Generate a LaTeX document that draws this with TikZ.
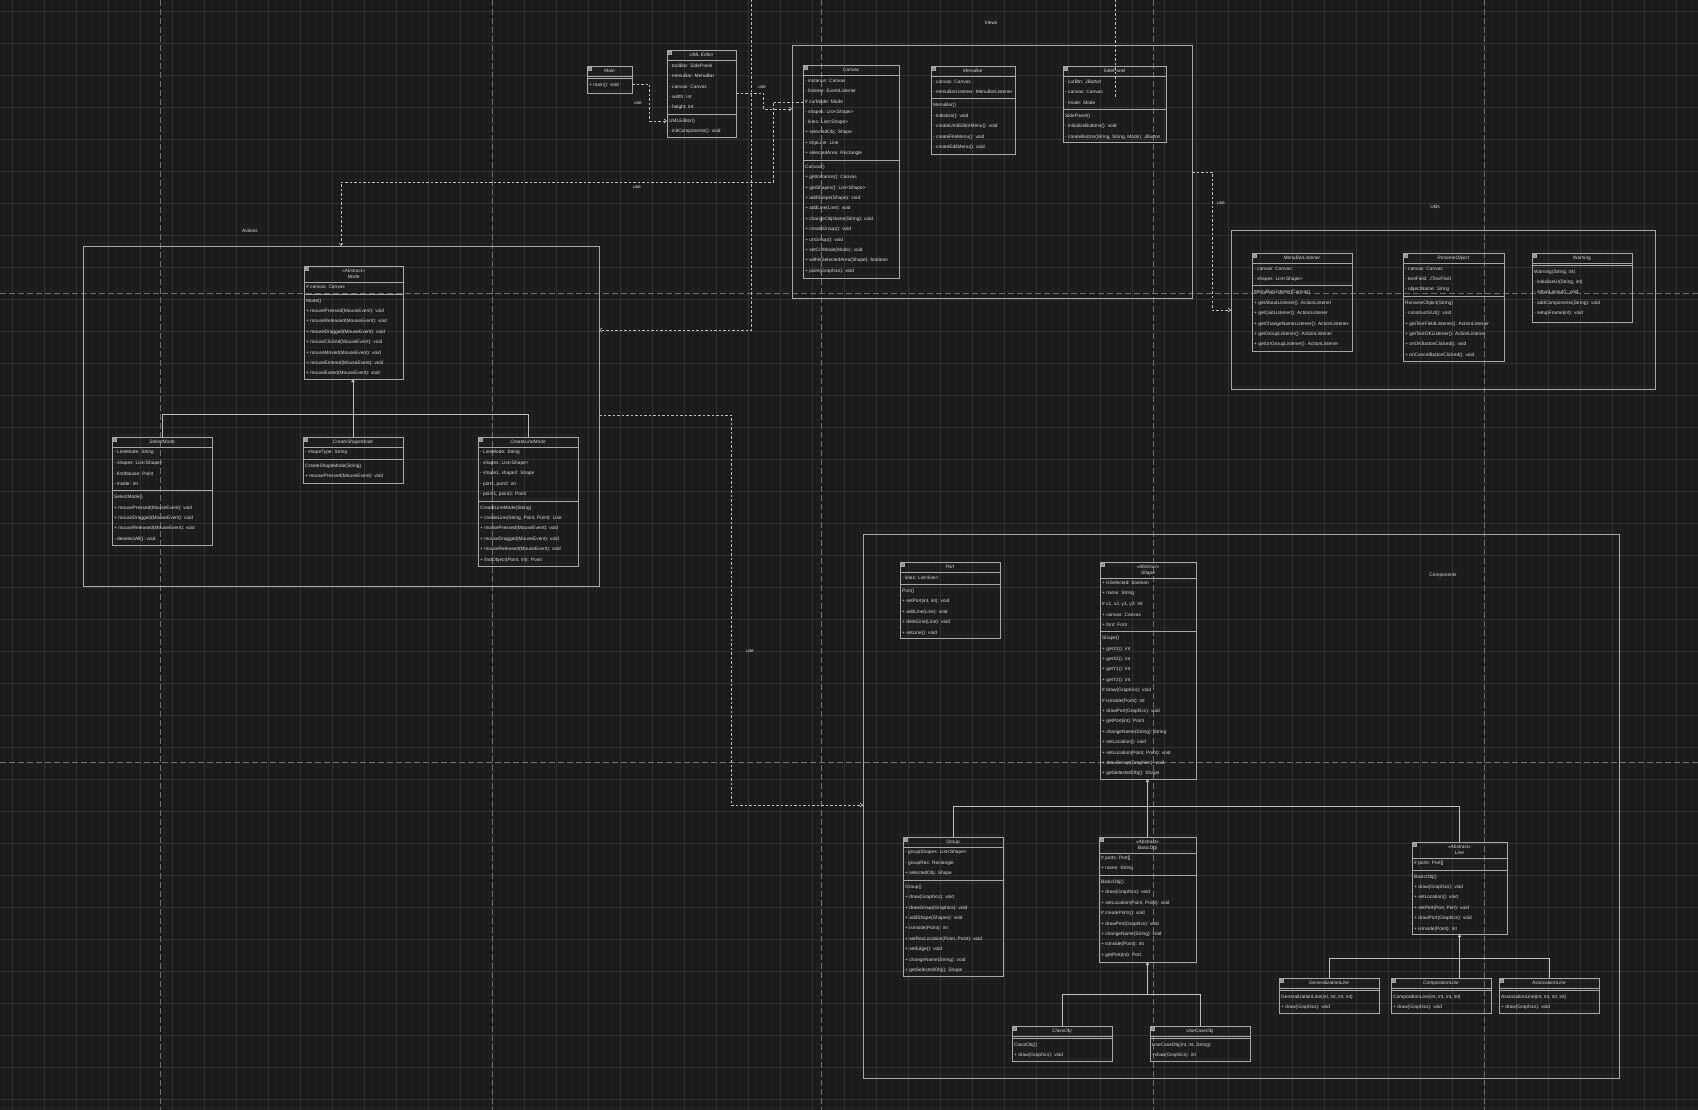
\documentclass[tikz,border=0pt]{standalone}
\usepackage{fontspec}
\setmainfont{Liberation Sans}
\usetikzlibrary{arrows.meta,calc}
\definecolor{bg}{HTML}{1C1C1C}
\definecolor{gridminor}{HTML}{222222}
\definecolor{gridmajor}{HTML}{313131}
\definecolor{boxline}{HTML}{A6A6A6}
\definecolor{txt}{HTML}{DADADA}
\definecolor{pagebrk}{HTML}{6E6E6E}
\definecolor{edgec}{HTML}{BDBDBD}
\definecolor{iconc}{HTML}{8C8C8C}
\tikzset{
  box/.style={draw=boxline, line width=0.75pt, inner sep=0pt, outer sep=0pt, anchor=north west},
  container/.style={draw=boxline, line width=0.8pt, inner sep=0pt, outer sep=0pt, anchor=north west},
  sepl/.style={draw=boxline, line width=0.75pt},
  rowtxt/.style={anchor=west, inner sep=0pt, text=txt, font=\fontsize{4.8}{5.8}\selectfont},
  ttl/.style={inner sep=0pt, text=txt, align=center, font=\fontsize{4.8}{5.8}\selectfont},
  lbl/.style={inner sep=0pt, text=txt, font=\fontsize{4.8}{5.8}\selectfont},
  pagebreak/.style={draw=pagebrk, line width=0.9pt, dash pattern=on 6pt off 3pt},
  usedge/.style={draw=edgec, line width=0.6pt, dash pattern=on 2.5pt off 2pt, -{Straight Barb[length=2.5pt,width=4pt]}},
  usplain/.style={draw=edgec, line width=0.6pt, dash pattern=on 2.5pt off 2pt},
  solidedge/.style={draw=edgec, line width=0.7pt},
  genedge/.style={draw=edgec, line width=0.7pt, -{Triangle[length=3.2pt,width=3.6pt,fill=edgec]}},
}
% #1 header height, #2 name, #3 x, #4 y, #5 width, #6 height, #7 title, #8 attributes, #9 methods
\newcommand{\umlclass}[9][10.4]{%
  \node[box, minimum width=#5pt, minimum height=#6pt] (#2) at (#3,#4) {};
  \draw[sepl] ({#3},{#4+#1}) -- ++(#5,0);
  \filldraw[fill=iconc, draw=boxline, line width=0.3pt] ({#3+1.6},{#4+1.6}) rectangle ++(3,3);
  \node[ttl] (#2-title) at ({#3+#5/2},{#4+#1/2}) {#7};
  \gdef\na{0}%
  \def\tmpattrs{#8}%
  \ifx\tmpattrs\empty\else
    \foreach \itm [count=\cnt] in {#8} {\node[rowtxt] (#2-a\cnt) at ({#3+2},{#4+#1+(\cnt-0.5)*10.4}) {\itm}; \xdef\na{\cnt}}%
  \fi
  \pgfmathsetmacro\sepy{#4+#1+\na*10.4+1.6}%
  \draw[sepl] ({#3},{\sepy}) -- ++(#5,0);
  \foreach \itm [count=\cnt] in {#9} {\node[rowtxt] (#2-m\cnt) at ({#3+2},{\sepy+1.6+(\cnt-0.5)*10.4}) {\itm};}%
}
\begin{document}
\begin{tikzpicture}[x=1pt,y=-1pt]
\useasboundingbox (0,0) rectangle (1698,1110);
\fill[bg] (0,0) rectangle (1698,1110);
\begin{scope}
  \clip (0,0) rectangle (1698,1110);
  \foreach \x in {4,12,...,1700} \draw[gridminor, line width=0.5pt] (\x,0) -- (\x,1110);
  \foreach \y in {3,11,...,1112} \draw[gridminor, line width=0.5pt] (0,\y) -- (1698,\y);
  \foreach \x in {12,44,...,1700} \draw[gridmajor, line width=0.6pt] (\x,0) -- (\x,1110);
  \foreach \y in {11,43,...,1112} \draw[gridmajor, line width=0.6pt] (0,\y) -- (1698,\y);
  \foreach \x in {160,492,821,1153,1484} \draw[pagebreak] (\x,0) -- (\x,1110);
  \foreach \y in {293,762} \draw[pagebreak] (0,\y) -- (1698,\y);
\end{scope}

% containers
\node[container, minimum width=400pt, minimum height=253pt] (Views) at (792,45) {};
\node[lbl] (ViewsLbl) at (991,23) {Views};
\node[container, minimum width=516pt, minimum height=340pt] (Actions) at (83,246) {};
\node[lbl] (ActionsLbl) at (250,231) {Actions};
\node[container, minimum width=424pt, minimum height=159pt] (Utils) at (1231,230) {};
\node[lbl] (UtilsLbl) at (1435,207) {Utils};
\node[container, minimum width=756pt, minimum height=544pt] (Components) at (863,534) {};
\node[lbl] (ComponentsLbl) at (1443,575) {Components};

% classes
\umlclass{Main}{587}{66}{45}{27}{Main}{}{{+ main(): void}}
\umlclass{UMLEditor}{667}{50}{69}{87}{\textit{UML Editor}}{{- toolBar: SidePanel},{- menuBar: MenuBar},{- canvas: Canvas},{- width: int},{- height: int}}{{UMLEditor()},{- initComponents(): void}}

\umlclass{Canvas}{803}{65}{96}{213}{Canvas}{{- instance: Canvas},{- listener: EventListener},{\# curMode: Mode},{- shapes: List<Shape>},{- lines: List<Shape>},{+ selectedObj: Shape},{+ tmpLine: Line},{+ selectedArea: Rectangle}}{{Canvas()},{+ getInstance(): Canvas},{+ getShapes(): List<Shape>},{+ addShape(Shape): void},{+ addLine(Line): void},{+ changeObjName(String): void},{+ createGroup(): void},{+ unGroup(): void},{+ setCurMode(Mode): void},{+ withinSelectedArea(Shape): boolean},{+ paint(Graphics): void}}
\umlclass{MenuBar}{931}{66}{84}{88}{\textit{MenuBar}}{{- canvas: Canvas},{- menuBarListener: MenuBarListener}}{{MenuBar()},{- initialize(): void},{- createUmlEditorMenu(): void},{- createFileMenu(): void},{- createEditMenu(): void}}
\umlclass{SidePanel}{1063}{66}{103}{76}{SidePanel}{{- curBtn: \textit{JButton}},{- canvas: Canvas},{- mode: Mode}}{{SidePanel()},{- initializeButtons(): void},{- createButton(String, String, Mode): \textit{JButton}}}

\umlclass[16]{Mode}{304}{266}{99}{113}{\textit{«Abstract»}\\\textit{Mode}}{{\# canvas: Canvas}}{{Mode()},{+ mousePressed(MouseEvent): void},{+ mouseReleased(MouseEvent): void},{+ mouseDragged(MouseEvent): void},{+ mouseClicked(MouseEvent): void},{+ mouseMoved(MouseEvent): void},{+ mouseEntered(MouseEvent): void},{+ mouseExited(MouseEvent): void}}
\umlclass{SelectMode}{112}{437}{100}{108}{\textit{SelectMode}}{{- LineMode: \textit{String}},{- shapes: List<Shape>},{- firstMouse: Point},{- inside: int}}{{SelectMode()},{+ mousePressed(MouseEvent): void},{+ mouseDragged(MouseEvent): void},{+ mouseReleased(MouseEvent): void},{- deselectAll(): void}}
\umlclass{CreateShapeMode}{303}{437}{100}{46}{\textit{CreateShapeMode}}{{- shapeType: \textit{String}}}{{CreateShapeMode(String)},{+ mousePressed(MouseEvent): void}}
\umlclass{CreateLineMode}{478}{437}{100}{129}{\textit{CreateLineMode}}{{- LineMode: String},{- shapes: List<Shape>},{- shape1, shape2: Shape},{- port1, port2: int},{- point1, point2: Point}}{{CreateLineMode(String)},{+ createLine(String, Point, Point): Line},{+ mousePressed(MouseEvent): void},{+ mouseDragged(MouseEvent): void},{+ mouseReleased(MouseEvent): void},{+ findObject(Point, int): Point}}

\umlclass{MenuBarListener}{1252}{253}{100}{98}{\textit{MenuBarListener}}{{- canvas: Canvas},{- shapes: List<Shape>}}{{MenuBarListener(Canvas)},{+ getAboutListener(): ActionListener},{+ getQuitListener(): ActionListener},{+ getChangeNameListener(): ActionListener},{+ getGroupListener(): ActionListener},{+ getUnGroupListener(): ActionListener}}
\umlclass{RenameObject}{1403}{253}{101}{108}{\textit{RenameObject}}{{- canvas: Canvas},{- textField: \textit{JTextField}},{- objectName: \textit{String}}}{{RenameObject(String)},{- constructGUI(): void},{+ getTextFieldListener(): ActionListener},{+ getTextOKListener(): ActionListener},{+ onOKButtonClicked(): void},{+ onCancelButtonClicked(): void}}
\umlclass{Warning}{1532}{253}{100}{69}{Warning}{}{{Warning(String, int)},{- initializeUI(String, int)},{- setupLayout(): void},{- addComponents(String): void},{- setupFrame(int): void}}

\umlclass{Port}{900}{562}{100}{76}{\textit{Port}}{{- lines: List<line>}}{{Port()},{+ setPort(int, int): void},{+ addLine(Line): void},{+ deletLine(Line): void},{+ setLine(): void}}
\umlclass[16]{Shape}{1100}{562}{96}{217}{\textit{«Abstract»}\\\textit{Shape}}{{+ isSelected: boolean},{+ name: String},{\# x1, x2, y1, y2: int},{+ canvas: Canvas},{+ font: Font}}{{Shape()},{+ getX1(): int},{+ getX2(): int},{+ getY1(): int},{+ getY2(): int},{\# draw(Graphics): void},{\# isInside(Point): int},{+ drawPort(Graphics): void},{+ getPort(int): Point},{+ changeName(String): String},{+ setLocation(): void},{+ setLocation(Point, Point): void},{+ drawGroup(Graphics): void},{+ getSelectedObj(): Shape}}
\umlclass{Group}{903}{837}{100}{139}{\textit{Group}}{{- groupShapes: List<Shape>},{- groupRec: Rectangle},{+ selectedObj: Shape}}{{Group()},{+ draw(Graphics): void},{+ drawGroup(Graphics): void},{+ addShape(Shapes): void},{+ isInside(Point): int},{+ setRecLocation(Point, Point): void},{+ setEdge(): void},{+ changeName(String): void},{+ getSelectedObj(): Shape}}
\umlclass[16]{BasicObj}{1099}{837}{97}{125}{\textit{«Abstract»}\\\textit{BasicObj}}{{\# ports: Port[]},{+ name: String}}{{BasicObj()},{+ draw(Graphics): void},{+ setLocation(Point, Point): void},{\# createPorts(): void},{+ drawPort(Graphics): void},{+ changeName(String): void},{+ isInside(Point): int},{+ getPort(int): Port}}
\umlclass[16]{Line}{1412}{842}{95}{92}{\textit{«Abstract»}\\\textit{Line}}{{\# ports: Port[]}}{{BasicObj()},{+ draw(Graphics): void},{+ setLocation(): void},{+ setPort(Port, Port): void},{+ drawPort(Graphics): void},{+ isInside(Point): int}}
\umlclass{GeneralizationLine}{1279}{978}{100}{35}{\textit{GeneralizationLine}}{}{{GeneralizationLine(int, int, int, int)},{+ draw(Graphics): void}}
\umlclass{CompositionLine}{1391}{978}{100}{35}{\textit{CompositionLine}}{}{{CompositionLine(int, int, int, int)},{+ draw(Graphics): void}}
\umlclass{AssociationLine}{1499}{978}{100}{35}{\textit{AssociationLine}}{}{{AssociationLine(int, int, int, int)},{+ draw(Graphics): void}}
\umlclass{ClassObj}{1012}{1026}{100}{35}{\textit{ClassObj}}{}{{ClassObj()},{+ draw(Graphics): void}}
\umlclass{UseCaseObj}{1150}{1026}{100}{35}{\textit{UseCaseObj}}{}{{UseCaseObj(int, int, String)},{+draw(Graphics): int}}

% generalization connectors
\coordinate (mj) at (0,414);
\draw[solidedge] (SelectMode.north) |- (CreateLineMode.north |- mj) -- (CreateLineMode.north);
\draw[genedge] (CreateShapeMode.north) -- (CreateShapeMode.north |- Mode.south);
\coordinate (sj) at (0,806);
\draw[solidedge] (Group.north) |- (Line.north |- sj) -- (Line.north);
\draw[genedge] (BasicObj.north) -- (BasicObj.north |- Shape.south);
\coordinate (bj) at (0,994);
\draw[solidedge] (ClassObj.north) |- (UseCaseObj.north |- bj) -- (UseCaseObj.north);
\draw[genedge] (BasicObj.south |- bj) -- (BasicObj.south);
\coordinate (lj) at (0,958);
\draw[solidedge] (GeneralizationLine.north) |- (AssociationLine.north |- lj) -- (AssociationLine.north);
\draw[genedge] (CompositionLine.north -| Line.south) -- (Line.south);

% use connectors
\draw[usedge] ($(Main.north east)+(0,18)$) -- (649,84) -- (649,121) -- ($(UMLEditor.north west)+(0,71)$);
\node[lbl] (use1) at (638,103) {use};
\draw[usedge] ($(UMLEditor.north east)+(0,43)$) -- (763,93) -- (763,109) -- ($(Views.north west)+(0,64)$);
\node[lbl] (use2) at (762,87) {use};
\draw[usedge] ($(Canvas.north west)+(0,37)$) -- (773,102) -- (773,182) -- (341,182) -- ($(Actions.north west)+(258,0)$);
\node[lbl] (use3) at (637,187) {use};
\draw[usedge] ($(Views.north east)+(0,127)$) -- (1212,172) -- (1212,310) -- ($(Utils.north west)+(0,80)$);
\node[lbl] (use4) at (1221,203) {use};
\draw[usedge] ($(Actions.north east)+(0,169)$) -- (731,415) -- (731,805) -- ($(Components.north west)+(0,271)$);
\node[lbl] (use5) at (750,651) {use};
\coordinate (topA) at (751,0);
\draw[usedge] (topA) -- (751,330) -- ($(Actions.north east)+(0,84)$);
\coordinate (topB) at (1115,0);
\draw[usplain] (topB) -- (1115,97);
\end{tikzpicture}
\end{document}
